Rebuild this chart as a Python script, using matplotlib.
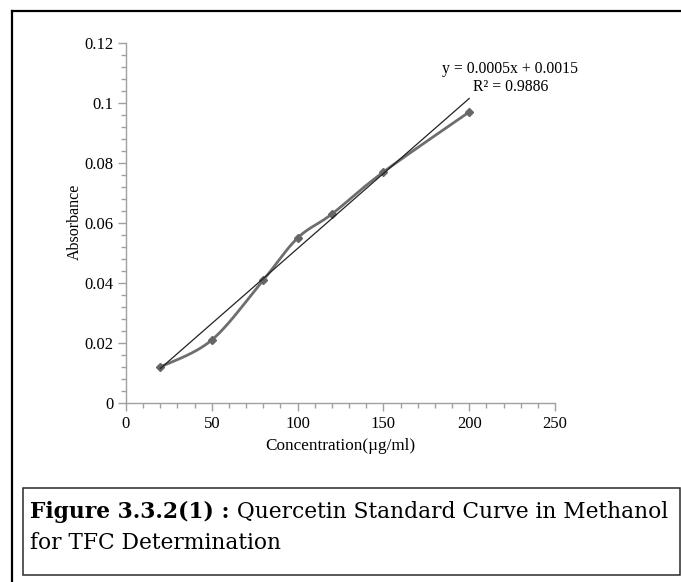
import numpy as np
import matplotlib
matplotlib.use("Agg")
import matplotlib.pyplot as plt
from matplotlib.patches import Rectangle
from matplotlib.lines import Line2D
from matplotlib.ticker import MultipleLocator

concentration = [20, 50, 80, 100, 120, 150, 200]
absorbance = [0.012, 0.021, 0.041, 0.055, 0.063, 0.077, 0.097]
slope, intercept = 0.0005, 0.0015
equation = "y = 0.0005x + 0.0015"
r_squared = "R\u00b2 = 0.9886"
x_label = "Concentration(\u00b5g/ml)"
y_label = "Absorbance"
y_ticks = [0, 0.02, 0.04, 0.06, 0.08, 0.1, 0.12]
y_ticklabels = ["0", "0.02", "0.04", "0.06", "0.08", "0.1", "0.12"]
caption_bold = "Figure 3.3.2(1) :"
caption_rest = " Quercetin Standard Curve in Methanol"
caption_line2 = "for TFC Determination"


def smooth(xs, ys, n=30):
    # excel style smoothed line: bezier segments, catmull-rom control points
    p = np.column_stack([xs, ys]).astype(float)
    out = []
    for i in range(len(p) - 1):
        p0 = p[i - 1] if i > 0 else p[i]
        p3 = p[i + 2] if i + 2 < len(p) else p[i + 1]
        c1 = p[i] + (p[i + 1] - p0) / 6
        c2 = p[i + 1] - (p3 - p[i]) / 6
        t = np.linspace(0, 1, n)[:, None]
        seg = ((1 - t) ** 3 * p[i] + 3 * (1 - t) ** 2 * t * c1
               + 3 * (1 - t) * t ** 2 * c2 + t ** 3 * p[i + 1])
        out.append(seg)
    out = np.vstack(out)
    return out[:, 0], out[:, 1]


W, H = 681, 582
fig = plt.figure(figsize=(W / 100, H / 100), dpi=100)
serif = ["Liberation Serif", "DejaVu Serif"]
cap_font = ["DejaVu Serif"]

# outer frame and caption box
fig.add_artist(Line2D([12 / W, 12 / W], [0, 1 - 11 / H], color="black", lw=1.6,
                      transform=fig.transFigure))
fig.add_artist(Line2D([12 / W, 1], [1 - 11 / H, 1 - 11 / H], color="black", lw=1.6,
                      transform=fig.transFigure))
fig.add_artist(Rectangle((23 / W, 1 - 575 / H), (W - 1 - 23) / W, 87 / H,
                         fill=False, edgecolor="#2a2a2a", lw=1.1,
                         transform=fig.transFigure))

ax = fig.add_axes([126 / W, 1 - 403 / H, (555 - 126) / W, (403 - 43) / H])
ax.set_xlim(0, 250)
ax.set_ylim(0, 0.12)
for s in ["top", "right"]:
    ax.spines[s].set_visible(False)
for s in ["left", "bottom"]:
    ax.spines[s].set_color("#a0a0a0")
    ax.spines[s].set_linewidth(1.0)

ax.xaxis.set_major_locator(MultipleLocator(50))
ax.xaxis.set_minor_locator(MultipleLocator(10))
ax.set_yticks(y_ticks)
ax.set_yticklabels(y_ticklabels)
ax.yaxis.set_minor_locator(MultipleLocator(0.004))
ax.set_ylim(0, 0.12)
ax.tick_params(which="major", length=6, width=1, color="#a0a0a0", labelsize=12, pad=3)
ax.tick_params(which="minor", length=3.5, width=1, color="#a0a0a0")
for lab in ax.get_xticklabels() + ax.get_yticklabels():
    lab.set_family(serif)

sx, sy = smooth(concentration, absorbance)
ax.plot(sx, sy, color="#6e6e6e", lw=2, solid_capstyle="round", zorder=3)
ax.plot(concentration, absorbance, ls="none", marker="D", ms=4.5,
        color="#666666", zorder=4)

xt = np.array([concentration[0], concentration[-1]])
ax.plot(xt, slope * xt + intercept, color="#222222", lw=0.9, zorder=5)

ax.text(224, 0.1113, equation, ha="center", va="center", fontsize=11.3,
        family=serif)
ax.text(224, 0.1052, r_squared, ha="center", va="center", fontsize=11.3,
        family=serif)

ax.set_xlabel(x_label, fontsize=12.3, family=serif, labelpad=5)
fig.text(75 / W, 1 - 222 / H, y_label, rotation=90, ha="center", va="center",
         fontsize=11.5, family=serif)

# caption, sized so the first line spans the box like the original
renderer = fig.canvas.get_renderer()
cap_fs = 16
t1 = fig.text(30 / W, 1 - 518 / H, caption_bold, fontsize=cap_fs,
              fontweight="bold", family=cap_font, va="baseline")
t2 = fig.text(0, 1 - 518 / H, caption_rest, fontsize=cap_fs,
              family=cap_font, va="baseline")
w = (t1.get_window_extent(renderer).width + t2.get_window_extent(renderer).width)
cap_fs = cap_fs * 637 / w
t1.set_fontsize(cap_fs)
t2.set_fontsize(cap_fs)
bb = t1.get_window_extent(renderer)
t2.set_x(bb.x1 / W)
fig.text(30 / W, 1 - 549 / H, caption_line2, fontsize=cap_fs,
         family=cap_font, va="baseline")

fig.savefig("out.png", dpi=100)
